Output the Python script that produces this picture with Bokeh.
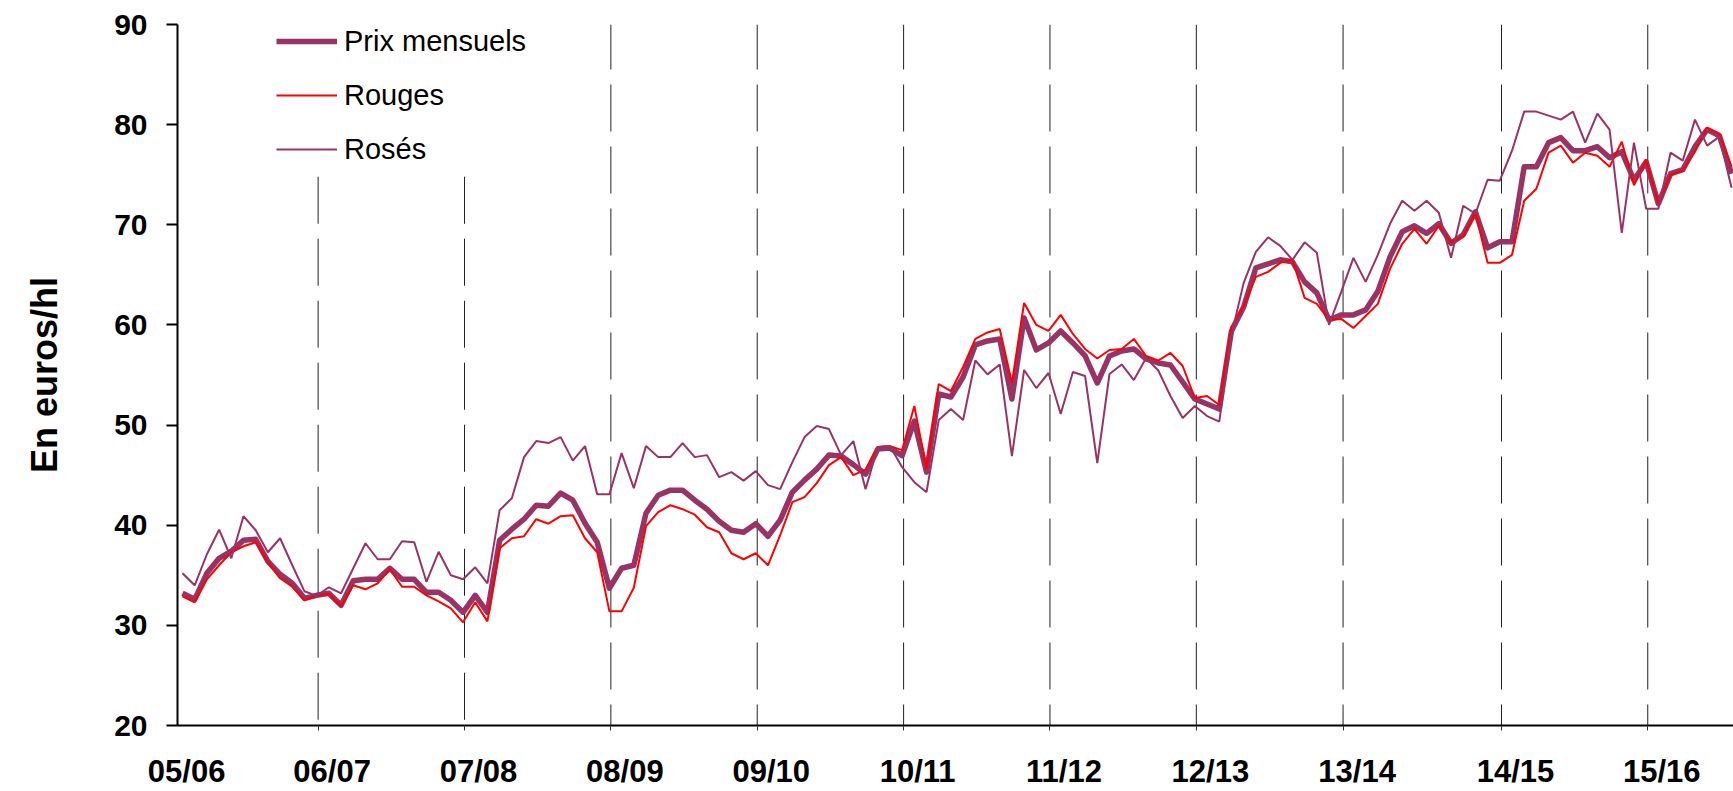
from bokeh.plotting import figure
from bokeh.models import Range1d, FixedTicker, LinearAxis, Legend, LegendItem, ColumnDataSource
from bokeh.embed import file_html
from bokeh.resources import INLINE

# ---- data (monthly index, euros/hl) ----
months = list(range(128))

prix = [33.2, 32.6, 35.2, 36.7, 37.4, 38.5, 38.6, 36.4, 35.1, 34.2, 32.7, 33.0,
        33.2, 32.0, 34.45, 34.6, 34.6, 35.7, 34.6, 34.6, 33.3, 33.3, 32.5, 31.3,
        33.0, 31.3, 38.5, 39.6, 40.6, 42.0, 41.9, 43.2, 42.5, 40.2, 38.3, 33.7,
        35.7, 36.0, 41.2, 43.0, 43.5, 43.5, 42.5, 41.6, 40.4, 39.5, 39.3, 40.15,
        38.9, 40.5, 43.3, 44.5, 45.6, 47.0, 46.9, 46.05, 45.1, 47.6, 47.7, 46.95,
        50.4, 45.3, 53.1, 52.8, 54.8, 58.0, 58.4, 58.6, 52.6, 60.7, 57.5, 58.2,
        59.4, 58.2, 56.9, 54.2, 56.9, 57.4, 57.6, 56.6, 56.2, 56.0, 54.3, 52.6,
        52.1, 51.6, 59.4, 61.8, 65.7, 66.1, 66.5, 66.3, 64.3, 63.2, 60.5, 61.0,
        61.0, 61.5, 63.35, 66.8, 69.3, 69.9, 69.15, 70.1, 68.15, 69.0, 71.3, 67.7,
        68.3, 68.3, 75.8, 75.8, 78.2, 78.7, 77.4, 77.4, 77.8, 76.7, 77.3, 74.45,
        76.3, 72.1, 75.1, 75.5, 77.8, 79.5, 78.9, 75.1]

rouges = [32.9, 32.3, 34.6, 36.0, 37.3, 37.9, 38.3, 36.3, 34.7, 33.85, 32.5, 33.0,
          33.1, 31.9, 34.0, 33.6, 34.2, 35.6, 33.85, 33.85, 33.0, 32.4, 31.7, 30.3,
          32.3, 30.4, 37.7, 38.7, 38.9, 40.6, 40.15, 40.9, 41.0, 38.7, 37.3, 31.4,
          31.4, 33.75, 39.9, 41.3, 42.0, 41.6, 41.05, 39.8, 39.3, 37.2, 36.6, 37.2,
          36.0, 39.0, 42.3, 42.8, 44.2, 46.0, 46.8, 45.0, 45.55, 47.8, 47.9, 47.5,
          51.9, 45.6, 54.1, 53.4, 55.8, 58.6, 59.25, 59.6, 54.2, 62.2, 60.0, 59.4,
          61.0, 59.1, 57.6, 56.65, 57.5, 57.6, 58.6, 56.9, 56.45, 57.2, 55.9, 52.7,
          52.9, 52.0, 59.8, 61.9, 64.8, 65.3, 66.2, 66.5, 62.7, 62.1, 60.5, 60.6,
          59.7, 60.9, 62.1, 65.6, 68.1, 69.6, 68.1, 69.9, 68.3, 68.8, 71.2, 66.2,
          66.2, 67.0, 72.4, 73.6, 77.2, 77.9, 76.2, 77.2, 76.9, 75.8, 78.3, 73.95,
          76.5, 72.1, 74.95, 75.4, 77.3, 79.7, 79.1, 75.8]

roses = [35.2, 34.0, 37.1, 39.55, 36.7, 40.9, 39.5, 37.3, 38.7, 36.0, 33.4, 32.95,
         33.8, 33.2, 35.7, 38.2, 36.6, 36.6, 38.4, 38.3, 34.35, 37.35, 35.0, 34.6,
         35.8, 34.2, 41.5, 42.7, 46.8, 48.4, 48.2, 48.8, 46.45, 47.9, 43.1, 43.1,
         47.2, 43.7, 47.9, 46.8, 46.8, 48.2, 46.8, 47.0, 44.8, 45.3, 44.45, 45.4,
         44.0, 43.6, 46.3, 48.8, 49.9, 49.6, 47.0, 48.4, 43.6, 47.8, 47.9, 45.8,
         44.3, 43.3, 50.5, 51.6, 50.5, 56.45, 55.06, 56.05, 46.9, 55.5, 53.7, 55.2,
         51.1, 55.3, 54.9, 46.2, 55.1, 56.05, 54.5, 56.7, 55.45, 52.9, 50.7, 51.9,
         50.9, 50.35, 59.0, 64.2, 67.3, 68.75, 67.9, 66.5, 68.25, 67.2, 60.0, 63.3,
         66.7, 64.3, 67.0, 70.1, 72.4, 71.4, 72.4, 71.2, 66.7, 71.9, 71.1, 74.5,
         74.4, 77.4, 81.3, 81.3, 80.9, 80.5, 81.3, 78.2, 81.1, 79.5, 69.2, 78.2,
         71.6, 71.6, 77.2, 76.4, 80.5, 77.9, 78.8, 73.7]

campaigns = ["05/06", "06/07", "07/08", "08/09", "09/10", "10/11",
             "11/12", "12/13", "13/14", "14/15", "15/16"]
# campaign separators (month index of dashed lines) and label positions
separators = [11.12, 23.12, 35.12, 47.12, 59.12, 71.12, 83.12, 95.15, 108.14, 120.13]
label_pos = [0.34] + [s + 1.15 for s in separators]
y_ticks = [20, 30, 40, 50, 60, 70, 80, 90]

PURPLE = "#993366"
RED = "#FF0000"
FONT = "Liberation Sans"

p = figure(width=1733, height=791, output_backend="svg", toolbar_location=None,
           x_range=Range1d(-0.41, 127.16), y_range=Range1d(20, 90),
           x_axis_location=None,
           min_border_left=177, min_border_right=0, min_border_top=24, min_border_bottom=63)
p.outline_line_color = None
p.xgrid.visible = False
p.ygrid.visible = False
p.background_fill_color = "white"

# y axis
ya = p.yaxis[0]
ya.ticker = FixedTicker(ticks=y_ticks)
ya.axis_line_width = 2
ya.axis_line_color = "black"
ya.major_tick_line_width = 2
ya.major_tick_line_color = "black"
ya.major_tick_out = 11
ya.major_tick_in = 0
ya.minor_tick_out = 0
ya.minor_tick_in = 0
ya.major_label_text_font = FONT
ya.major_label_text_font_style = "bold"
ya.major_label_text_font_size = "30px"
ya.major_label_text_color = "black"
ya.major_label_standoff = 19
ya.axis_label = "En euros/hl"
ya.axis_label_text_font = FONT
ya.axis_label_text_font_style = "bold"
ya.axis_label_text_font_size = "36px"
ya.axis_label_text_color = "black"
ya.axis_label_standoff = 46

# x axis: labels at campaign starts, small ticks at separators
xa = LinearAxis(ticker=FixedTicker(ticks=label_pos, minor_ticks=separators))
xa.major_label_overrides = {pos: lab for pos, lab in zip(label_pos, campaigns)}
xa.axis_line_width = 2
xa.axis_line_color = "black"
xa.major_tick_out = 0
xa.major_tick_in = 0
xa.major_tick_line_color = None
xa.minor_tick_out = 5
xa.minor_tick_in = 0
xa.minor_tick_line_color = "#333333"
xa.minor_tick_line_width = 1
xa.major_label_text_font = FONT
xa.major_label_text_font_style = "bold"
xa.major_label_text_font_size = "31px"
xa.major_label_text_color = "black"
xa.major_label_standoff = 23
p.add_layout(xa, "below")

# dashed campaign separators
tall = [s for s in separators[2:]]
short = separators[:2]
p.segment(x0=tall, y0=[90] * len(tall), x1=tall, y1=[20] * len(tall),
          line_color="#222222", line_width=1, line_dash="47 15", line_dash_offset=2)
p.segment(x0=short, y0=[74.8] * len(short), x1=short, y1=[20] * len(short),
          line_color="#222222", line_width=1, line_dash="47 15", line_dash_offset=0)

src = ColumnDataSource(dict(m=months, prix=prix, rouges=rouges, roses=roses))
r1 = p.line("m", "prix", source=src, line_color=PURPLE, line_width=5.5, line_join="round")
r2 = p.line("m", "rouges", source=src, line_color=RED, line_width=2)
r3 = p.line("m", "roses", source=src, line_color=PURPLE, line_width=2)

legend = Legend(items=[LegendItem(label="Prix mensuels", renderers=[r1]),
                       LegendItem(label="Rouges", renderers=[r2]),
                       LegendItem(label="Rosés", renderers=[r3])],
                location=(99, 558))
legend.background_fill_alpha = 0
legend.border_line_color = None
legend.padding = 0
legend.margin = 0
legend.spacing = 18
legend.glyph_width = 61
legend.glyph_height = 36
legend.label_height = 36
legend.label_standoff = 7
legend.label_text_font = FONT
legend.label_text_font_size = "29px"
legend.label_text_color = "black"
p.add_layout(legend, "center")

open("out.html", "w").write(file_html(p, INLINE))
